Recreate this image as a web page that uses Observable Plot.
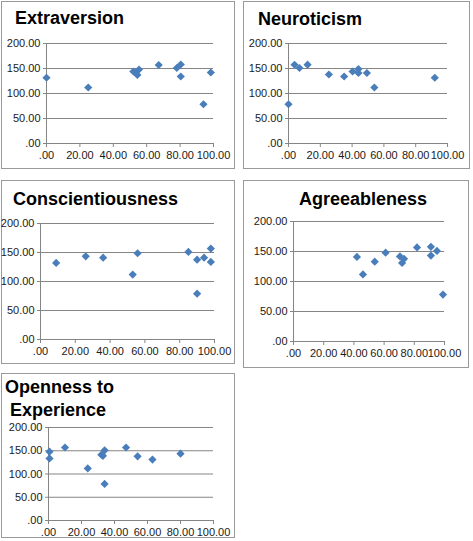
<!DOCTYPE html>
<html><head><meta charset="utf-8">
<script src="https://cdn.jsdelivr.net/npm/d3@7"></script>
<script src="https://cdn.jsdelivr.net/npm/@observablehq/plot@0.6"></script>
<style>
html,body{margin:0;padding:0;background:#fff;}
body{width:473px;height:541px;position:relative;overflow:hidden;font-family:"Liberation Sans",Arial,Helvetica,sans-serif;}
.box{position:absolute;box-sizing:border-box;border:1px solid #9a9a9a;}
.plot{position:absolute;}
.title{position:absolute;font-weight:bold;font-size:18px;line-height:18px;color:#000;white-space:nowrap;}
</style></head><body>
<script>
// ---- data ----
const titles = ["Extraversion", "Neuroticism", "Conscientiousness", "Agreeableness", "Openness to\nExperience"];
const xTicks = [0, 20, 40, 60, 80, 100];
const yTicks = [0, 50, 100, 150, 200];

const extraversionX = [0, 25, 52, 53.5, 54.4, 55.4, 67.2, 78, 80.4, 80.4, 94, 98.4];
const extraversionY = [131.5, 112, 144, 141, 137, 148, 157, 151, 158, 134, 78.5, 142];

const neuroticismX = [0, 3.8, 6.9, 12, 25.4, 35, 40.3, 44, 44, 49.3, 54, 92];
const neuroticismY = [78.5, 157.5, 151, 157.7, 138, 134, 144, 149, 141, 141, 112, 131.5];

const conscientiousnessX = [9, 26, 36, 53, 55.8, 85, 90, 90, 94, 97.9, 97.9];
const conscientiousnessY = [132, 143.5, 141, 112, 148.7, 151, 137.7, 79, 141, 156.8, 133.7];

const agreeablenessX = [42, 46, 53.8, 61, 70.5, 71.9, 73.2, 81.8, 91, 91, 95, 99];
const agreeablenessY = [141, 111.7, 133, 148, 141.7, 131, 137.8, 156.7, 157.8, 143.3, 151, 78.3];

const opennessX = [0.6, 0.6, 10, 23.8, 32, 33, 34, 34, 47, 54, 63, 80];
const opennessY = [147.9, 133.6, 157, 112, 141.4, 139, 151, 78.6, 157, 138, 131, 143.6];

// ---- layout (page pixels) ----
const layout = [
  {box:[1,1,234,168],   area:[46,213,43,143],  title:[[15,24]]},
  {box:[243,1,469,168], area:[288,447,43,143], title:[[258,25]]},
  {box:[1,180,234,363], area:[40,214,223,339], title:[[13,205]]},
  {box:[243,180,468,367],area:[293,444,221,341],title:[[299,205]]},
  {box:[1,373,234,537], area:[48,213,427,520], title:[[5,393],[10,416]]}
];
const series = [
  [extraversionX, extraversionY],
  [neuroticismX, neuroticismY],
  [conscientiousnessX, conscientiousnessY],
  [agreeablenessX, agreeablenessY],
  [opennessX, opennessY]
];

const fmt = v => d3.format(".2f")(v).replace(/^0\./, ".");
const font = '"Liberation Sans", Arial, Helvetica, sans-serif';

layout.forEach((L, i) => {
  const [bl, bt, br, bb] = L.box;
  const W = br - bl + 1, H = bb - bt + 1;
  const [ax0, ax1, ayTop, ayBot] = L.area;
  const [xs, ys] = series[i];
  const data = xs.map((x, k) => ({x, y: ys[k]}));

  const border = document.createElement("div");
  border.className = "box";
  Object.assign(border.style, {left: bl + "px", top: bt + "px", width: W + "px", height: H + "px"});
  document.body.appendChild(border);

  const svg = Plot.plot({
    width: W, height: H,
    marginLeft: ax0 - bl, marginRight: bl + W - ax1,
    marginTop: ayTop - bt, marginBottom: bt + H - ayBot,
    style: {background: "transparent", fontFamily: font, fontSize: "11px", color: "#1a1a1a", overflow: "visible"},
    x: {domain: [0, 100]},
    y: {domain: [0, 200]},
    marks: [
      Plot.ruleY(yTicks, {x1: 0, x2: 100, stroke: "#858585", strokeWidth: 1}),
      Plot.ruleX([0], {y1: 0, y2: 200, stroke: "#858585", strokeWidth: 1}),
      Plot.axisY(yTicks, {tickSize: 3, tickPadding: 3, tickFormat: fmt, stroke: "#858585", fill: "#1a1a1a", label: null}),
      Plot.axisX(xTicks, {tickSize: 4, tickPadding: 4, tickFormat: fmt, stroke: "#858585", fill: "#1a1a1a", label: null}),
      Plot.dot(data, {x: "x", y: "y", symbol: "diamond2", r: 3.7, fill: "#4a7ebb", stroke: "none"})
    ]
  });
  svg.classList.add("plot");
  Object.assign(svg.style, {left: bl + "px", top: bt + "px"});
  document.body.appendChild(svg);

  titles[i].split("\n").forEach((line, j) => {
    const [tx, baseline] = L.title[j];
    const t = document.createElement("div");
    t.className = "title";
    t.textContent = line;
    Object.assign(t.style, {left: tx + "px", top: (baseline - 15.2) + "px"});
    document.body.appendChild(t);
  });
});
</script>
</body></html>
